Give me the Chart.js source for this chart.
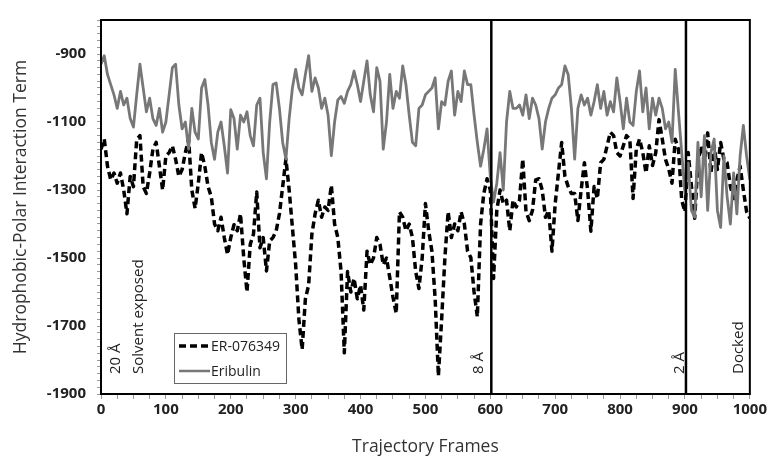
<!DOCTYPE html>
<html>
<head>
<meta charset="utf-8">
<script src="https://cdn.jsdelivr.net/npm/chart.js@4"></script>
<style>
  html, body { margin: 0; padding: 0; background: #fff; }
</style>
</head>
<body>
<canvas id="chart" width="769" height="468"></canvas>
<script>
// one value every 5 trajectory frames, 0..1000
const FRAME_STEP = 5;

const eribulin = [
  -930, -905, -960, -990, -1020, -1060, -1010, -1050, -1030, -1090, -1115, -1020, -930, -1000, -1070, -1030, -1090, -1110, -1060, -1130,
  -1100, -1020, -940, -930, -1050, -1120, -1100, -1180, -1060, -1130, -1150, -1000, -975, -1050, -1160, -1210, -1130, -1100, -1170, -1250,
  -1064, -1090, -1180, -1080, -1100, -1070, -1140, -1170, -1050, -1030, -1190, -1267, -1100, -990, -985, -1060, -1160, -1209, -1090, -1000,
  -945, -1000, -1020, -960, -905, -1010, -970, -1000, -1060, -1030, -1080, -1199, -1100, -1035, -1025, -1045, -1010, -990, -950, -990,
  -1040, -980, -920, -1020, -1070, -940, -980, -1180, -1100, -960, -1060, -1010, -1030, -935, -990, -1080, -1160, -1170, -1060, -1050,
  -1020, -1010, -1000, -970, -1120, -1040, -1050, -980, -950, -1080, -1010, -1040, -950, -990, -990, -1080, -1160, -1230, -1180, -1120,
  -1260, -1335, -1280, -1190, -1300, -1100, -1010, -1060, -1060, -1050, -1080, -1020, -1090, -1030, -1050, -1090, -1180, -1100, -1060, -1030,
  -1020, -1000, -990, -935, -960, -1060, -1209, -1060, -1020, -1050, -1030, -1080, -1040, -990, -1060, -1010, -1080, -1040, -1070, -970,
  -1040, -1120, -1030, -1100, -1110, -1010, -950, -1070, -1000, -1120, -1030, -1080, -1030, -1060, -1120, -1100, -1160, -945, -1070, -1190,
  -1310, -1220, -1360, -1380, -1160, -1320, -1140, -1360, -1190, -1150, -1360, -1410, -1200, -1320, -1400, -1250, -1370, -1200, -1110, -1200, -1270
];

const er076349 = [
  -1180, -1150, -1230, -1270, -1250, -1280, -1250, -1300, -1370, -1260, -1290, -1151, -1140, -1290, -1310, -1250, -1180, -1160, -1230, -1300,
  -1200, -1190, -1170, -1210, -1260, -1240, -1190, -1150, -1300, -1354, -1280, -1190, -1230, -1290, -1320, -1400, -1420, -1380, -1440, -1490,
  -1440, -1402, -1420, -1370, -1500, -1600, -1460, -1430, -1306, -1470, -1440, -1538, -1450, -1440, -1420, -1370, -1290, -1209, -1300, -1410,
  -1520, -1680, -1769, -1620, -1580, -1430, -1370, -1330, -1380, -1350, -1360, -1286, -1400, -1440, -1540, -1779, -1540, -1600, -1560, -1620,
  -1580, -1653, -1480, -1520, -1500, -1440, -1460, -1520, -1500, -1557, -1615, -1663, -1364, -1380, -1420, -1400, -1440, -1540, -1590, -1500,
  -1340, -1420, -1480, -1620, -1847, -1680, -1500, -1364, -1440, -1400, -1420, -1364, -1400, -1480, -1499, -1600, -1673, -1400, -1310, -1267,
  -1300, -1560, -1360, -1300, -1340, -1330, -1420, -1330, -1350, -1330, -1209, -1364, -1390, -1360, -1270, -1267, -1300, -1380, -1360, -1480,
  -1340, -1250, -1160, -1260, -1290, -1310, -1310, -1390, -1300, -1220, -1300, -1421, -1290, -1325, -1220, -1210, -1170, -1130, -1140, -1190,
  -1200, -1170, -1140, -1150, -1325, -1180, -1150, -1190, -1250, -1170, -1228, -1190, -1093, -1150, -1210, -1238, -1280, -1151, -1180, -1330,
  -1364, -1190, -1290, -1383, -1220, -1170, -1220, -1132, -1250, -1170, -1240, -1160, -1210, -1220, -1290, -1325, -1270, -1230, -1300, -1364, -1383
];

const yTickLabels = [-1900, -1700, -1500, -1300, -1100, -900];
const xTickLabels = [0, 100, 200, 300, 400, 500, 600, 700, 800, 900, 1000];
const markerFrames = [600, 900];
const notes = [
  { frame: 22, text: '20 Å' },
  { frame: 58, text: 'Solvent exposed' },
  { frame: 582, text: '8 Å' },
  { frame: 892, text: '2 Å' },
  { frame: 983, text: 'Docked' }
];

const toPoints = arr => arr.map((v, i) => ({ x: i * FRAME_STEP, y: v }));

const overlay = {
  id: 'overlay',
  afterDatasetsDraw(chart) {
    const { ctx, chartArea: a, scales: { x } } = chart;
    ctx.save();

    // phase separators
    ctx.strokeStyle = '#000';
    ctx.lineWidth = 2.5;
    markerFrames.forEach(f => {
      const px = x.getPixelForValue(f) + 1;
      ctx.beginPath();
      ctx.moveTo(px, a.top);
      ctx.lineTo(px, a.bottom);
      ctx.stroke();
    });

    // plot frame
    ctx.lineWidth = 2;
    ctx.strokeRect(a.left, a.top, a.right - a.left, a.bottom - a.top);

    // rotated notes
    ctx.fillStyle = '#222';
    ctx.font = '15px "Open Sans"';
    ctx.textAlign = 'left';
    ctx.textBaseline = 'middle';
    notes.forEach(n => {
      ctx.save();
      ctx.translate(x.getPixelForValue(n.frame), a.bottom - 20);
      ctx.rotate(-Math.PI / 2);
      ctx.fillText(n.text, 0, 0);
      ctx.restore();
    });

    // legend box
    const lx = a.left + 73, ly = a.bottom - 61;
    ctx.fillStyle = '#fff';
    ctx.fillRect(lx, ly, 112, 50);
    ctx.strokeStyle = '#666';
    ctx.lineWidth = 1;
    ctx.strokeRect(lx + 0.5, ly + 0.5, 112, 50);

    ctx.strokeStyle = '#000';
    ctx.lineWidth = 3.5;
    ctx.setLineDash([7, 4]);
    ctx.beginPath();
    ctx.moveTo(lx + 5, ly + 13);
    ctx.lineTo(lx + 36, ly + 13);
    ctx.stroke();
    ctx.setLineDash([]);

    ctx.strokeStyle = '#777';
    ctx.lineWidth = 2.5;
    ctx.beginPath();
    ctx.moveTo(lx + 5, ly + 38);
    ctx.lineTo(lx + 36, ly + 38);
    ctx.stroke();

    ctx.fillStyle = '#222';
    ctx.font = '14px "Open Sans"';
    ctx.fillText('ER-076349', lx + 37, ly + 14);
    ctx.fillText('Eribulin', lx + 37, ly + 39);

    ctx.restore();
  }
};

new Chart(document.getElementById('chart'), {
  type: 'line',
  data: {
    datasets: [
      {
        label: 'Eribulin',
        data: toPoints(eribulin),
        borderColor: '#777',
        borderWidth: 2.8,
        borderJoinStyle: 'round',
        pointRadius: 0,
        tension: 0,
        order: 0
      },
      {
        label: 'ER-076349',
        data: toPoints(er076349),
        borderColor: '#000',
        borderWidth: 3.5,
        borderDash: [7, 4],
        borderJoinStyle: 'round',
        pointRadius: 0,
        tension: 0,
        order: 1
      }
    ]
  },
  options: {
    responsive: false,
    animation: false,
    layout: { padding: { top: 15, right: 18, left: 0, bottom: 0 } },
    plugins: {
      legend: { display: false },
      tooltip: { enabled: false }
    },
    scales: {
      x: {
        type: 'linear',
        min: 0,
        max: 1000,
        afterBuildTicks: scale => {
          const t = [];
          for (let v = 0; v <= 1000; v += 25) t.push({ value: v });
          scale.ticks = t;
        },
        afterFit: scale => { scale.height = 74; },
        ticks: {
          autoSkip: false,
          maxRotation: 0,
          padding: 2,
          color: '#222',
          font: { family: 'Open Sans', weight: 'bold', size: 15 },
          callback: v => xTickLabels.includes(v) ? String(v) : ''
        },
        grid: { drawOnChartArea: false, drawTicks: true, tickLength: 5, color: '#999' },
        border: { display: false },
        title: {
          display: true,
          text: 'Trajectory Frames',
          color: '#333',
          font: { family: 'Open Sans', size: 17.5 },
          padding: { top: 0, bottom: 10 }
        }
      },
      y: {
        min: -1900,
        max: -800,
        afterBuildTicks: scale => {
          const t = [];
          for (let v = -1900; v <= -800; v += 20) t.push({ value: v });
          scale.ticks = t;
        },
        afterFit: scale => { scale.width = 101; },
        ticks: {
          autoSkip: false,
          padding: 11,
          color: '#222',
          font: { family: 'Open Sans', weight: 'bold', size: 15 },
          callback: v => yTickLabels.includes(v) ? String(v) : ''
        },
        grid: { drawOnChartArea: false, drawTicks: true, tickLength: 4, color: '#999' },
        border: { display: false },
        title: {
          display: true,
          text: 'Hydrophobic-Polar Interaction Term',
          color: '#333',
          font: { family: 'Open Sans', size: 17.5 },
          padding: { top: 11, bottom: 0 }
        }
      }
    }
  },
  plugins: [overlay]
});
</script>
</body>
</html>
